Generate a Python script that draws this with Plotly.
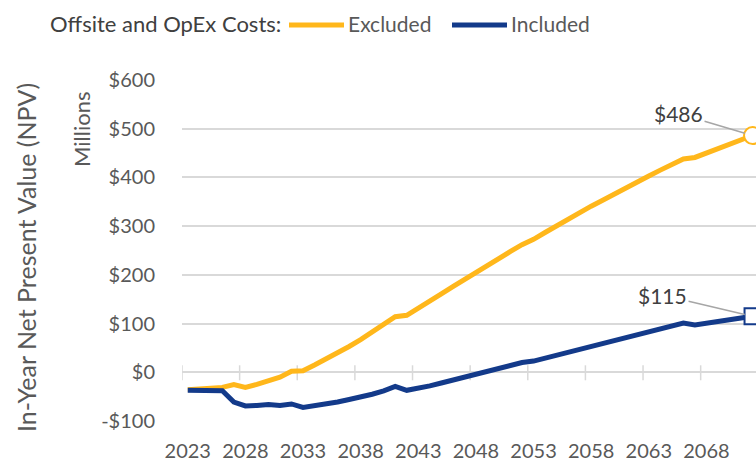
import plotly.graph_objects as go

years = list(range(2023, 2073))
excluded = [-36, -35, -33, -31, -25, -31, -25, -18, -10, 2,
            3, 15, 27, 40, 53, 67, 82, 98, 114, 117,
            131, 146, 161, 176, 191, 206, 220, 234, 248, 262,
            273, 287, 301, 314, 328, 341, 353, 366, 378, 391,
            403, 415, 427, 438, 441, 450, 459, 468, 477, 486]
included = [-37, -38, -38, -38, -61, -69, -68, -66, -68, -65,
            -72, -69, -65, -61, -56, -51, -45, -38, -29, -37,
            -33, -28, -22, -16, -10, -4, 2, 8, 14, 20,
            23, 29, 35, 42, 49, 55, 61, 67, 73, 79,
            85, 91, 97, 101, 97, 101, 105, 109, 112, 115]
ytick_vals = [-100, 0, 100, 200, 300, 400, 500, 600]
ytick_text = ["-$100", "$0", "$100", "$200", "$300", "$400", "$500", "$600"]
xtick_years = list(range(2023, 2069, 5))
series_names = ["Excluded", "Included"]
legend_title = "Offsite and OpEx Costs:"

YELLOW = "#FFB71B"
BLUE = "#133A8A"
GRID = "#D9D9D9"
TXT = "#595959"
DARK = "#404040"
FONT = "Lato, 'Noto Sans', sans-serif"

# plot area in page pixels
L, R, T, B = 182, 756, 80, 421
W, H = 756, 464

fig = go.Figure()
fig.add_trace(go.Scatter(x=years, y=excluded, mode="lines", name=series_names[0],
                         line=dict(color=YELLOW, width=5), showlegend=False))
fig.add_trace(go.Scatter(x=years, y=included, mode="lines", name=series_names[1],
                         line=dict(color=BLUE, width=5), showlegend=False))
fig.add_trace(go.Scatter(x=years[-1:], y=excluded[-1:], mode="markers", showlegend=False,
                         marker=dict(symbol="circle", size=17, color="white",
                                     line=dict(color=YELLOW, width=2))))
fig.add_trace(go.Scatter(x=years[-1:], y=included[-1:], mode="markers", showlegend=False,
                         marker=dict(symbol="square", size=16, color="white",
                                     line=dict(color=BLUE, width=2))))

xr = [years[0] - 0.5, years[-1] + 0.3]
boundaries = [y - 0.5 for y in xtick_years]

fig.update_layout(
    width=W, height=H,
    margin=dict(l=L, r=W - R, t=T, b=H - B, pad=0),
    plot_bgcolor="white", paper_bgcolor="white",
    font=dict(family=FONT, size=20, color=TXT),
    xaxis=dict(range=xr, tickmode="array", tickvals=xtick_years,
               ticktext=[str(y) for y in xtick_years],
               showgrid=False, zeroline=False, showline=False,
               ticks="outside", ticklen=12, tickcolor="rgba(0,0,0,0)",
               tickfont=dict(size=20, color=TXT)),
    yaxis=dict(range=[-100, 600], tickmode="array", tickvals=ytick_vals,
               ticktext=ytick_text, showgrid=True, gridcolor=GRID, gridwidth=1.5,
               zeroline=False, showline=False, ticks="outside", ticklen=22,
               tickcolor="rgba(0,0,0,0)", tickfont=dict(size=20, color=TXT)),
)

# crossing tick marks on the $0 axis line
for bx in boundaries:
    fig.add_shape(type="line", xref="x", yref="y", ysizemode="pixel", yanchor=0,
                  x0=bx, x1=bx, y0=-8, y1=7, line=dict(color=GRID, width=1.5),
                  layer="below")

def px_x(p):
    return (p - L) / (R - L)
def px_y(p):
    return (B - p) / (B - T)

# axis titles
fig.add_annotation(text="In-Year Net Present Value (NPV)", xref="paper", yref="paper",
                   x=px_x(26), y=px_y(258), textangle=-90,
                   showarrow=False, font=dict(size=25, color=TXT),
                   xanchor="center", yanchor="middle")
fig.add_annotation(text="Millions", xref="paper", yref="paper",
                   x=px_x(81), y=px_y(130), textangle=-90,
                   showarrow=False, font=dict(size=22, color=TXT),
                   xanchor="center", yanchor="middle")

# legend (manual)
fig.add_annotation(text=legend_title, xref="paper", yref="paper", x=px_x(48), y=px_y(24),
                   xanchor="left", yanchor="middle", showarrow=False,
                   font=dict(size=22, color=DARK))
fig.add_shape(type="line", xref="paper", yref="paper", x0=px_x(289), x1=px_x(344),
              y0=px_y(25), y1=px_y(25), line=dict(color=YELLOW, width=5))
fig.add_annotation(text=series_names[0], xref="paper", yref="paper", x=px_x(346), y=px_y(24),
                   xanchor="left", yanchor="middle", showarrow=False,
                   font=dict(size=21, color=TXT))
fig.add_shape(type="line", xref="paper", yref="paper", x0=px_x(452), x1=px_x(507),
              y0=px_y(25), y1=px_y(25), line=dict(color=BLUE, width=5))
fig.add_annotation(text=series_names[1], xref="paper", yref="paper", x=px_x(509), y=px_y(24),
                   xanchor="left", yanchor="middle", showarrow=False,
                   font=dict(size=21, color=TXT))

# end labels
for val, ax, ay in [(excluded[-1], -74, -22), (included[-1], -90, -21)]:
    fig.add_annotation(x=years[-1], y=val, text=f"${val}", showarrow=True,
                       ax=ax, ay=ay, arrowhead=0, arrowwidth=1.5, arrowcolor="#A6A6A6",
                       standoff=8, font=dict(size=21, color=DARK),
                       xanchor="center", yanchor="middle")

fig.write_html("out.html", config={"displayModeBar": False},
               post_script="document.body.style.margin='0';")
